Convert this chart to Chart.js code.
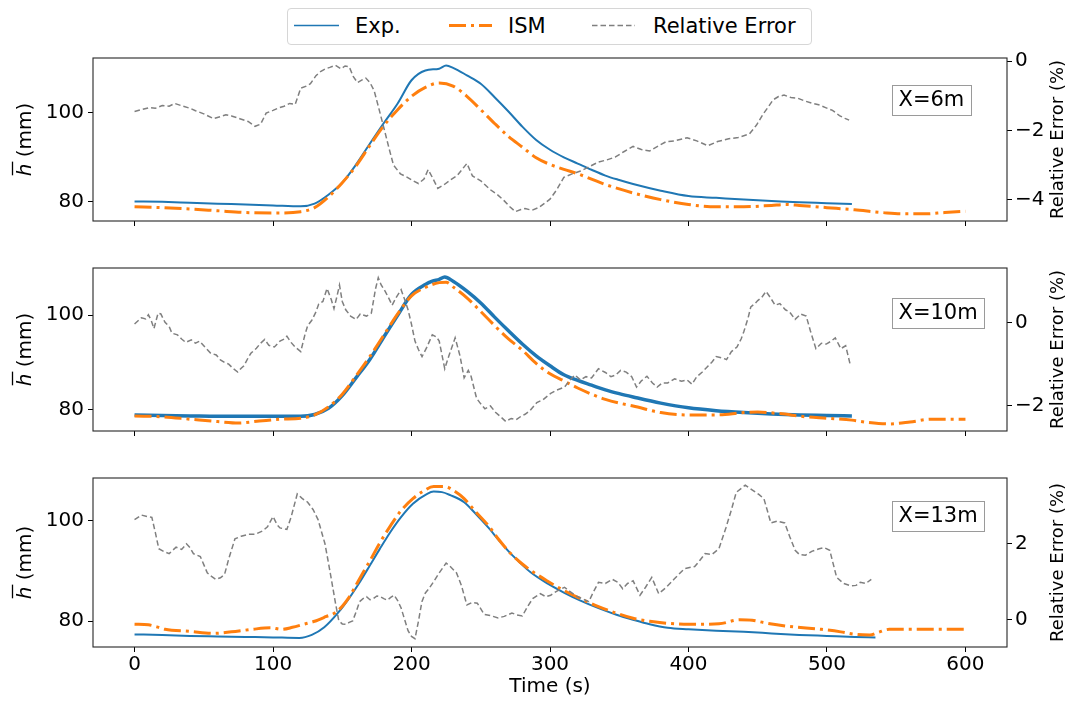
<!DOCTYPE html>
<html>
<head>
<meta charset="utf-8">
<title>Mean depth at X=6, 10, 13 m</title>
<script src="https://cdn.jsdelivr.net/npm/chart.js@4.4.1/dist/chart.umd.min.js"></script>
<style>
  body { margin: 0; background: #fff; width: 1070px; height: 702px; overflow: hidden; position: relative; font-family: "DejaVu Sans", sans-serif; }
  canvas.panel { position: absolute; left: 0; }
  #legend { position: absolute; left: 287px; top: 8px; width: 525px; height: 37px; box-sizing: border-box;
            border: 1px solid #d6d6d6; border-radius: 4px; background: #fff; }
  #legend svg { position: absolute; left: 0; top: 0; }
  #legend span { position: absolute; top: 0; line-height: 35px; font-size: 21px; color: #000; white-space: nowrap; }
</style>
</head>
<body>

<div id="legend">
  <svg width="523" height="35">
    <line x1="6" y1="16.5" x2="51" y2="16.5" stroke="#1f77b4" stroke-width="1.6"/>
    <line x1="161" y1="16.5" x2="204" y2="16.5" stroke="#ff7f0e" stroke-width="3" stroke-dasharray="17,5,3,5"/>
    <line x1="304" y1="16.5" x2="347" y2="16.5" stroke="#7f7f7f" stroke-width="1.5" stroke-dasharray="5.5,3"/>
  </svg>
  <span style="left:67px">Exp.</span>
  <span style="left:220px">ISM</span>
  <span style="left:365px">Relative Error</span>
</div>

<canvas id="p6" class="panel" width="1070" height="195" style="top:42px"></canvas>
<canvas id="p10" class="panel" width="1070" height="195" style="top:252px"></canvas>
<canvas id="p13" class="panel" width="1070" height="240" style="top:462px"></canvas>

<script>
// ---- tick values ----
const X_TICKS = [0, 100, 200, 300, 400, 500, 600];
const H_TICKS = [80, 100];
const ERR_TICKS_6 = [-4, -2, 0];
const ERR_TICKS_10 = [-2, 0];
const ERR_TICKS_13 = [0, 2];

// ---- X = 6 m ----
const T_EXP_6 = [0,20,40,60,80,100,120,130,140,150,160,170,180,190,200,210,220,225,230,240,250,260,270,280,290,300,310,320,330,340,350,360,380,400,420,440,460,480,500,518];
const EXP_6 = [80.0,79.9,79.7,79.5,79.3,79.1,78.9,79.5,81.5,84.2,88.3,93.0,97.6,102.0,107.2,109.4,109.8,110.5,110.0,108.3,106.4,103.4,100.2,96.8,93.8,91.6,89.9,88.5,87.1,85.8,84.8,83.9,82.4,81.2,80.8,80.4,80.1,79.8,79.6,79.4];
const T_ISM_6 = [0,20,40,60,80,100,120,130,140,150,160,170,180,190,200,210,220,230,240,250,260,270,280,290,300,310,320,330,340,350,360,380,400,420,440,460,470,480,500,520,540,555,570,585,600];
const ISM_6 = [78.8,78.6,78.3,77.9,77.5,77.4,77.7,78.6,81.0,84.2,88.0,92.6,97.0,100.6,103.6,105.6,106.6,105.9,103.6,100.6,97.5,94.6,92.2,89.8,88.3,87.2,86.2,85.0,83.8,82.8,81.9,80.4,79.3,78.8,78.8,79.1,79.3,79.1,78.6,78.1,77.5,77.2,77.2,77.5,77.8];
const T_ERR_6 = [0,5,11,15,20,25,29,35,40,44,50,57,62,66,70,76,82,87,91,95,100,104,108,112,116,120,124,127,131,134,138,141,145,149,152,155,158,161,164,167,170,173,176,180,184,187,192,197,201,205,209,212,215,219,224,229,233,237,240,244,250,257,262,267,271,275,279,282,287,292,296,300,305,310,316,322,328,335,341,347,353,360,366,372,378,384,390,399,406,414,421,429,436,444,449,454,458,461,465,469,474,479,484,489,494,499,504,509,513,516];
const ERR_6 = [-1.45,-1.40,-1.34,-1.36,-1.28,-1.30,-1.22,-1.30,-1.36,-1.43,-1.52,-1.66,-1.60,-1.55,-1.58,-1.66,-1.74,-1.88,-1.82,-1.50,-1.42,-1.35,-1.30,-1.22,-1.25,-0.78,-0.72,-0.65,-0.42,-0.31,-0.22,-0.18,-0.12,-0.22,-0.14,-0.16,-0.45,-0.62,-0.55,-0.49,-0.62,-0.85,-1.30,-1.92,-2.55,-3.00,-3.25,-3.35,-3.45,-3.53,-3.40,-3.13,-3.35,-3.67,-3.55,-3.40,-3.30,-3.10,-2.95,-3.31,-3.45,-3.71,-3.85,-4.03,-4.20,-4.34,-4.28,-4.25,-4.30,-4.22,-4.10,-3.98,-3.70,-3.35,-3.25,-3.17,-3.05,-2.91,-2.85,-2.77,-2.62,-2.46,-2.55,-2.59,-2.45,-2.32,-2.30,-2.21,-2.30,-2.44,-2.32,-2.24,-2.20,-2.10,-1.85,-1.52,-1.30,-1.12,-1.02,-0.98,-1.05,-1.07,-1.15,-1.21,-1.26,-1.34,-1.42,-1.57,-1.65,-1.70];

// ---- X = 10 m ----
const T_EXP_10 = [0,20,40,60,80,100,120,130,140,150,160,170,180,190,200,210,215,220,224,230,240,250,260,270,280,290,300,310,320,330,340,350,360,380,400,420,440,460,480,500,518];
const EXP_10 = [78.9,78.8,78.7,78.6,78.6,78.6,78.6,79.0,80.3,83.0,86.8,90.7,95.4,100.0,104.4,106.5,107.2,107.6,108.1,107.2,105.1,102.6,99.6,96.7,93.9,91.4,89.3,87.4,86.2,85.2,84.2,83.4,82.7,81.4,80.4,79.8,79.4,79.1,78.9,78.8,78.7];
const T_ISM_10 = [0,20,40,60,75,90,105,120,130,140,150,160,170,180,190,200,210,220,225,230,240,250,260,270,280,290,300,310,320,330,340,350,360,380,400,420,440,450,465,485,500,518,530,545,560,575,600];
const ISM_10 = [78.7,78.5,78.0,77.5,77.2,77.6,78.0,78.2,78.9,80.6,83.3,87.2,91.3,95.8,100.3,104.1,105.9,106.9,107.0,106.0,103.7,100.8,97.8,95.0,92.6,89.8,87.6,86.1,84.6,83.3,82.2,81.4,80.8,79.4,78.9,78.9,79.4,79.5,79.2,78.5,78.2,77.8,77.3,77.0,77.4,78.0,78.0];
const T_ERR_10 = [0,3,5,8,10,12,14,17,19,22,25,27,31,34,37,41,44,47,51,55,59,62,65,68,71,74.5,77,79,82,84,88,91,94,97,101,105,108,110,113,116,120,123,125,128,131,133,136,139,142,144,146,148,150,152.5,156,160,163,167.5,171,174,176,178,181,184,186,189,192.5,195,197.5,200,202.5,205,207.6,211,215,218,220,224,227,231.5,235,238,241,243,247,250,253,257,260.6,264,268,272,275.6,279,282,285.6,290.5,295,300.5,305,310.5,314,318,322,326,330,335,340,344,347.5,351,355,359,362.5,366,370,374,377.4,381,385,390,395,399,402.5,406,410,414,417,420,424,427.5,431,435,438,440,443,445,448,450,453,456,459,462.5,466,470,473,477,481,485,488,492,496,499.5,503,506,510,513.5,517];
const ERR_10 = [-0.04,0.05,0.11,0.08,0.18,0.05,-0.15,0.22,0.20,0.00,-0.10,-0.26,-0.30,-0.40,-0.48,-0.42,-0.50,-0.45,-0.60,-0.74,-0.78,-0.90,-0.96,-1.00,-1.10,-1.19,-1.10,-1.04,-0.85,-0.74,-0.62,-0.50,-0.41,-0.55,-0.59,-0.45,-0.40,-0.33,-0.48,-0.59,-0.70,-0.30,-0.08,0.05,0.25,0.44,0.50,0.81,0.55,0.33,0.60,0.89,0.50,0.30,0.15,0.07,0.20,0.15,0.22,0.80,1.07,0.90,0.74,0.55,0.41,0.60,0.78,0.55,0.30,-0.05,-0.45,-0.65,-0.82,-0.60,-0.30,-0.35,-0.45,-1.11,-0.80,-0.37,-0.80,-1.33,-1.15,-1.29,-1.82,-1.95,-2.07,-2.00,-2.15,-2.25,-2.37,-2.30,-2.33,-2.25,-2.20,-2.11,-1.92,-1.85,-1.70,-1.62,-1.55,-1.40,-1.26,-1.38,-1.30,-1.33,-1.11,-1.20,-1.30,-1.26,-1.15,-1.19,-1.30,-1.55,-1.40,-1.29,-1.45,-1.55,-1.45,-1.45,-1.35,-1.41,-1.38,-1.48,-1.30,-1.19,-1.05,-0.95,-0.82,-0.85,-0.89,-0.70,-0.59,-0.40,-0.22,0.10,0.37,0.45,0.52,0.60,0.74,0.60,0.41,0.45,0.30,0.25,0.07,0.20,0.15,-0.20,-0.63,-0.50,-0.52,-0.45,-0.37,-0.63,-0.56,-1.04];

// ---- X = 13 m ----
const T_EXP_13 = [0,20,40,60,80,100,119,128,137,147,155,162,170,177,185,192,201,211,216,222,228,238,246,256,263,271,278,286,298,310,322,335,348,360,372,385,400,420,440,460,480,500,520,535];
const EXP_13 = [77.4,77.3,77.1,77.0,76.9,76.8,76.7,77.3,78.8,81.7,84.6,87.5,91.1,94.3,97.8,100.5,103.3,105.2,105.7,105.6,105.0,103.6,101.4,98.4,96.1,93.6,91.7,89.7,87.5,85.7,84.1,82.6,81.3,80.3,79.4,78.7,78.4,78.1,77.9,77.6,77.3,77.1,76.9,76.8];
const T_ISM_13 = [0,10,16,22,40,57,70,85,98,106,114,122,130,138,146,155,162,170,177,185,192,201,208,216,224,231,238,246,256,263,271,278,286,298,310,322,335,348,360,372,385,400,422,437,446,455,472,496,510,521,531,537,545,560,600];
const ISM_13 = [79.4,79.3,78.9,78.4,78.0,77.6,77.9,78.4,78.7,78.4,78.8,79.4,80.0,80.9,81.9,84.8,88.2,92.0,95.5,99.0,101.8,104.3,105.7,106.7,106.7,105.8,104.3,101.8,98.8,96.2,93.6,91.8,90.1,88.0,86.1,84.5,82.9,81.6,80.6,80.0,79.6,79.4,79.5,80.3,80.2,79.7,79.0,78.4,77.9,77.4,77.3,77.8,78.4,78.4,78.4];
const T_ERR_13 = [0,5,9,12.5,15,17.5,21,25,30,34,37.5,40,42.5,47.5,50,52.5,55,58.7,62,65,68,72.5,77,82.5,87,92.5,96,100,103,105,110,113,117.5,121,125,129,132.5,137.5,140,142.5,145,147.5,150,152.5,155,157.5,160,162.5,165,167.5,170,172.5,175,177.5,180,182.5,185,187.5,190,192.5,195,197.5,200,202.5,205,207.5,210,212.5,216,220,225,228,232.5,236,240,244,247.5,252.5,257,262.5,267,272.5,276,280,284,287.5,293,297,300.5,305,310.5,314,318,323,328,331,335,340,345,349,352.5,356,360,365,369,373.5,378.5,384,389.5,397,404.5,408,412,417,422,427,431,434.5,441,447,451,454.5,459.5,464,469.5,473,477,480,484.5,489,494.4,498,502,507,512,517,521,524,528,532];
const ERR_13 = [2.64,2.76,2.72,2.70,2.30,1.87,1.80,1.74,1.91,1.85,2.00,1.90,1.74,1.66,1.45,1.23,1.15,1.06,1.10,1.19,1.60,2.13,2.20,2.25,2.25,2.34,2.45,2.72,2.50,2.42,2.38,2.70,3.32,3.20,3.10,2.90,2.64,2.00,1.50,0.98,0.45,-0.04,-0.12,-0.13,-0.08,-0.04,0.20,0.47,0.55,0.60,0.52,0.55,0.62,0.60,0.55,0.51,0.58,0.64,0.50,0.30,0.00,-0.30,-0.45,-0.51,-0.05,0.47,0.70,0.81,1.00,1.23,1.49,1.40,1.23,0.90,0.38,0.45,0.43,0.13,0.10,0.04,0.08,0.17,0.12,0.09,0.35,0.55,0.68,0.60,0.64,0.75,0.85,0.75,0.64,0.55,0.47,0.70,0.98,0.95,1.06,0.98,0.81,0.95,1.02,0.64,0.85,1.11,0.68,0.85,1.06,1.34,1.40,1.55,1.74,1.72,1.87,2.42,2.90,3.36,3.55,3.40,3.30,3.19,2.55,2.60,2.55,2.20,1.83,1.72,1.70,1.80,1.87,1.90,1.83,1.11,0.95,0.89,0.90,0.98,0.95,1.06];

const BLUE = "#1f77b4";
const ORANGE = "#ff7f0e";
const GREY = "#7f7f7f";
const FONT = '"DejaVu Sans", sans-serif';

const pts = (ts, vs) => ts.map((t, i) => ({ x: t, y: vs[i] }));
const fixTicks = (list) => (scale) => { scale.ticks = list.map((v) => ({ value: v })); };
const fmtErr = (v) => (v < 0 ? "\u2212" + Math.abs(v) : String(v));

const TICK_GRID = { display: true, drawOnChartArea: false, drawTicks: true, tickLength: 5, tickColor: "#000", tickWidth: 1 };

// frame, position tag and the two rotated axis titles
const panelDecor = {
  id: "panelDecor",
  afterDatasetsDraw(chart, args, o) {
    const { ctx, chartArea: a } = chart;
    ctx.save();
    ctx.strokeStyle = "#262626";
    ctx.lineWidth = 1.1;
    ctx.strokeRect(a.left, a.top, a.right - a.left, a.bottom - a.top);

    ctx.font = `21px ${FONT}`;
    const tw = ctx.measureText(o.tag).width;
    const bx = 892, by = a.top + o.boxTop, bw = Math.round(tw + 13), bh = 30;
    ctx.fillStyle = "#fff";
    ctx.fillRect(bx, by, bw, bh);
    ctx.strokeStyle = "#9a9a9a";
    ctx.lineWidth = 1;
    ctx.strokeRect(bx + 0.5, by + 0.5, bw, bh);
    ctx.fillStyle = "#000";
    ctx.textBaseline = "middle";
    ctx.textAlign = "left";
    ctx.fillText(o.tag, bx + 6.5, by + bh / 2 + 1);

    const cy = (a.top + a.bottom) / 2;
    // left: italic h with an overline, then " (mm)"
    ctx.save();
    ctx.translate(31, cy);
    ctx.rotate(-Math.PI / 2);
    ctx.textBaseline = "alphabetic";
    ctx.font = `italic 20px ${FONT}`;
    const hw = ctx.measureText("h").width;
    ctx.font = `20px ${FONT}`;
    const rw = ctx.measureText(" (mm)").width;
    const x0 = -(hw + rw) / 2;
    ctx.font = `italic 20px ${FONT}`;
    ctx.fillText("h", x0, 0);
    ctx.beginPath();
    ctx.moveTo(x0 + 1, -18.5);
    ctx.lineTo(x0 + hw + 2, -18.5);
    ctx.lineWidth = 1.3;
    ctx.strokeStyle = "#000";
    ctx.stroke();
    ctx.font = `20px ${FONT}`;
    ctx.fillText(" (mm)", x0 + hw, 0);
    ctx.restore();

    // right: reads bottom to top
    ctx.save();
    ctx.translate(1063, cy);
    ctx.rotate(-Math.PI / 2);
    ctx.font = `18px ${FONT}`;
    ctx.textAlign = "center";
    ctx.textBaseline = "alphabetic";
    ctx.fillStyle = "#000";
    ctx.fillText("Relative Error (%)", 0, 0);
    ctx.restore();

    ctx.restore();
  },
};

function makePanel(id, p) {
  return new Chart(document.getElementById(id), {
    type: "line",
    data: {
      datasets: [
        { label: "Relative Error", data: pts(p.tErr, p.err), yAxisID: "yErr", borderColor: GREY, borderWidth: 1.5,
          borderDash: [5.5, 3], tension: 0, order: 1 },
        { label: "ISM", data: pts(p.tIsm, p.ism), yAxisID: "y", borderColor: ORANGE, borderWidth: 3,
          borderDash: [17, 5, 3, 5], cubicInterpolationMode: "monotone", order: 2 },
        { label: "Exp.", data: pts(p.tExp, p.exp), yAxisID: "y", borderColor: BLUE, borderWidth: p.expWidth,
          cubicInterpolationMode: "monotone", order: 3 },
      ],
    },
    options: {
      responsive: false,
      animation: false,
      events: [],
      layout: { padding: { top: 10, left: 0, right: 0, bottom: 0 } },
      elements: { point: { radius: 0 } },
      plugins: {
        legend: { display: false },
        tooltip: { enabled: false },
        panelDecor: { tag: p.tag, boxTop: p.boxTop },
      },
      scales: {
        x: {
          type: "linear", min: -30, max: 630,
          afterBuildTicks: fixTicks(X_TICKS),
          ticks: { display: p.last, font: { family: FONT, size: 20 }, color: "#000", padding: 1, maxRotation: 0, autoSkip: false },
          grid: TICK_GRID,
          border: { display: false },
          title: { display: p.last, text: "Time (s)", color: "#000", font: { family: FONT, size: 20 }, padding: { top: 0, bottom: 3 } },
          afterFit: (s) => { s.height = p.last ? 55 : 10; },
        },
        y: {
          position: "left", min: p.hMin, max: p.hMax,
          afterBuildTicks: fixTicks(H_TICKS),
          ticks: { font: { family: FONT, size: 20 }, color: "#000", padding: 4 },
          grid: TICK_GRID,
          border: { display: false },
          afterFit: (s) => { s.width = 93; },
        },
        yErr: {
          position: "right", min: p.eMin, max: p.eMax,
          afterBuildTicks: fixTicks(p.errTicks),
          ticks: { font: { family: FONT, size: 20 }, color: "#000", padding: 3, callback: fmtErr },
          grid: TICK_GRID,
          border: { display: false },
          afterFit: (s) => { s.width = 63; },
        },
      },
    },
    plugins: [panelDecor],
  });
}

makePanel("p6", {
  tag: "X=6m", boxTop: 27, last: false, expWidth: 2,
  hMin: 75.6, hMax: 112.2, eMin: -4.61, eMax: 0.09, errTicks: ERR_TICKS_6,
  tExp: T_EXP_6, exp: EXP_6, tIsm: T_ISM_6, ism: ISM_6, tErr: T_ERR_6, err: ERR_6,
});
makePanel("p10", {
  tag: "X=10m", boxTop: 30, last: false, expWidth: 3.5,
  hMin: 75.5, hMax: 110.0, eMin: -2.6, eMax: 1.3, errTicks: ERR_TICKS_10,
  tExp: T_EXP_10, exp: EXP_10, tIsm: T_ISM_10, ism: ISM_10, tErr: T_ERR_10, err: ERR_10,
});
makePanel("p13", {
  tag: "X=13m", boxTop: 23, last: true, expWidth: 2,
  hMin: 74.9, hMax: 108.4, eMin: -0.73, eMax: 3.74, errTicks: ERR_TICKS_13,
  tExp: T_EXP_13, exp: EXP_13, tIsm: T_ISM_13, ism: ISM_13, tErr: T_ERR_13, err: ERR_13,
});
</script>
</body>
</html>
